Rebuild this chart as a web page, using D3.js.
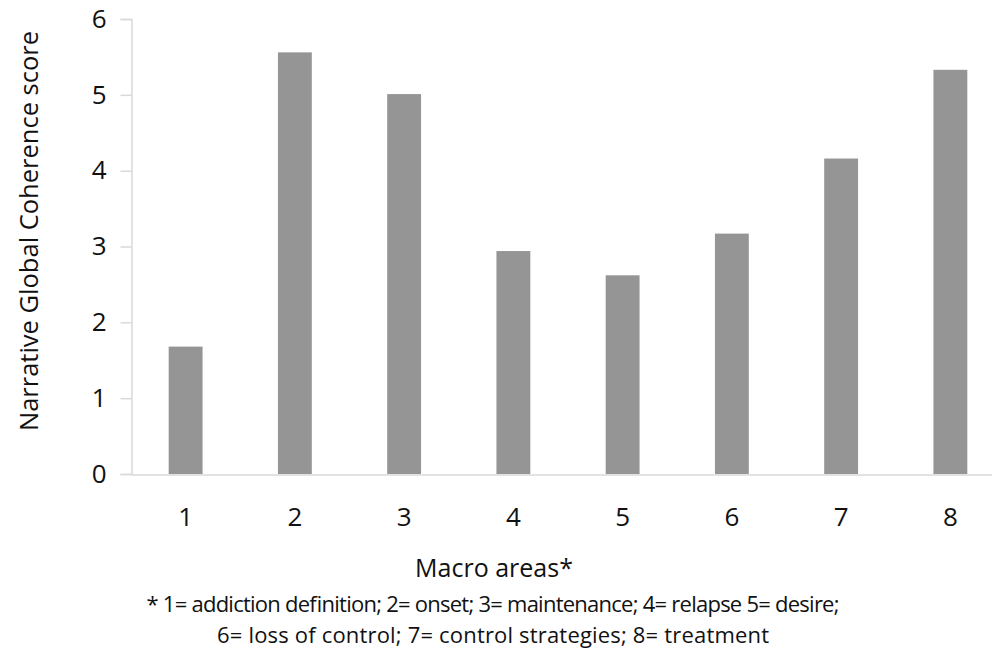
<!DOCTYPE html>
<html><head><meta charset="utf-8">
<script src="https://cdn.jsdelivr.net/npm/d3@7"></script>
<style>body{margin:0;background:#fff}text{font-family:"Open Sans",sans-serif;fill:#111}</style>
</head><body><svg id="c" width="992" height="648"></svg>
<script>
const categories = ["1","2","3","4","5","6","7","8"];
const values = [1.68, 5.56, 5.01, 2.94, 2.62, 3.17, 4.16, 5.33];
const yTicks = [0,1,2,3,4,5,6];
const yTitle = "Narrative Global Coherence score";
const xTitle = "Macro areas*";
const notes = ["*  1= addiction definition; 2= onset; 3= maintenance; 4= relapse 5= desire;",
               "6= loss of control; 7= control strategies; 8= treatment"];
const noteWidths = [693, 552];

const svg = d3.select("#c");
const x = d3.scaleBand().domain(categories).range([131,1005]).paddingInner(0.69).paddingOuter(0.345);
const y = d3.scaleLinear().domain([0,6]).range([474,19]);

svg.selectAll("rect.bar").data(values).join("rect").attr("class","bar")
  .attr("x",(d,i)=>x(categories[i])).attr("width",x.bandwidth())
  .attr("y",d=>y(d)).attr("height",d=>y(0)-y(d)).attr("fill","#959595");

const ya = svg.append("g").attr("transform","translate(131.5,0)")
  .call(d3.axisLeft(y).tickValues(yTicks).tickSize(11).tickPadding(14).tickFormat(d3.format("d")));
ya.select(".domain").attr("stroke","#d9d9d9").attr("stroke-width",1.5);
ya.selectAll(".tick line").attr("stroke","#d9d9d9").attr("stroke-width",1.5);
ya.selectAll(".tick text").attr("font-size",26).attr("font-family","Open Sans").attr("fill","#111");

const xa = svg.append("g").attr("transform","translate(0,474.5)")
  .call(d3.axisBottom(x).tickSize(0).tickPadding(33));
xa.select(".domain").attr("stroke","#d9d9d9").attr("stroke-width",1.5);
xa.selectAll(".tick text").attr("font-size",26).attr("font-family","Open Sans").attr("fill","#111");

svg.append("text").attr("transform","translate(38,231) rotate(-90)").attr("text-anchor","middle")
  .attr("font-size",25.5).text(yTitle);
svg.append("text").attr("x",494).attr("y",577).attr("text-anchor","middle").attr("font-size",25).text(xTitle);
svg.selectAll("text.note").data(notes).join("text").attr("class","note")
  .attr("x",(d,i)=>493 - noteWidths[i]/2).attr("y",(d,i)=>612+i*31)
  .attr("font-size",22).attr("textLength",(d,i)=>noteWidths[i]).attr("lengthAdjust","spacing").text(d=>d);
</script></body></html>
